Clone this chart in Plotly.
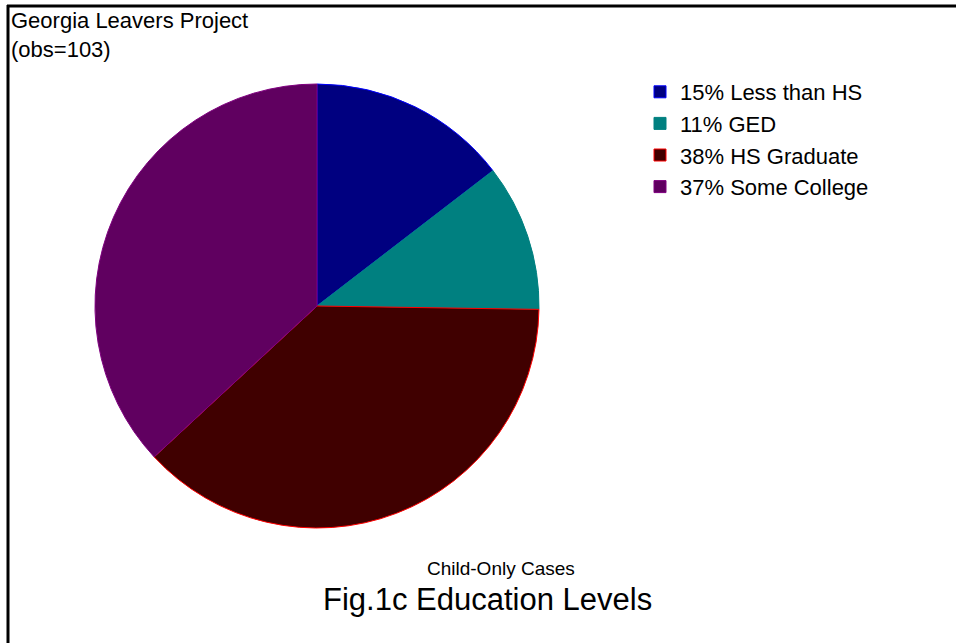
import plotly.graph_objects as go

# Georgia Leavers Project, child-only cases (obs=103)
categories = ["Less than HS", "GED", "HS Graduate", "Some College"]
counts = [15, 11, 39, 38]
fill_colors = ["#000080", "#008080", "#400000", "#600060"]
edge_colors = ["#0000ff", "#008080", "#ff0000", "#800080"]

total = sum(counts)
labels = [f"{round(100 * c / total)}% {name}" for c, name in zip(counts, categories)]

W, H = 956, 643
FONT = "Liberation Sans, Arial, sans-serif"


def px_x(x):
    return x / W


def px_y(y):
    return 1 - y / H


fig = go.Figure(
    go.Pie(
        labels=labels,
        values=counts,
        sort=False,
        direction="clockwise",
        rotation=0,
        textinfo="none",
        marker=dict(colors=fill_colors, line=dict(color=edge_colors, width=1)),
        domain=dict(x=[px_x(95), px_x(539)], y=[px_y(528), px_y(84)]),
    )
)

fig.update_layout(
    width=W,
    height=H,
    margin=dict(l=0, r=0, t=0, b=0),
    paper_bgcolor="white",
    plot_bgcolor="white",
    font=dict(family=FONT, color="black"),
    legend=dict(
        x=px_x(640),
        y=px_y(71),
        xanchor="left",
        yanchor="top",
        font=dict(size=22, color="black"),
        bgcolor="rgba(0,0,0,0)",
    ),
    annotations=[
        dict(text="Georgia Leavers Project<br>(obs=103)", x=px_x(9), y=px_y(6),
             xref="paper", yref="paper", xanchor="left", yanchor="top",
             align="left", showarrow=False, font=dict(size=22)),
        dict(text="Child-Only Cases", x=px_x(501), y=px_y(568),
             xref="paper", yref="paper", xanchor="center", yanchor="middle",
             showarrow=False, font=dict(size=19)),
        dict(text="Fig.1c Education Levels", x=px_x(487), y=px_y(599),
             xref="paper", yref="paper", xanchor="center", yanchor="middle",
             showarrow=False, font=dict(size=31)),
    ],
    shapes=[
        dict(type="line", xref="paper", yref="paper", x0=px_x(7), x1=1,
             y0=px_y(6), y1=px_y(6), line=dict(color="black", width=3)),
        dict(type="line", xref="paper", yref="paper", x0=px_x(8), x1=px_x(8),
             y0=px_y(5), y1=0, line=dict(color="black", width=3)),
    ],
)

fig.write_html(
    "out.html",
    config={"displayModeBar": False},
    post_script="document.body.style.margin='0';document.body.style.overflow='hidden';",
)
